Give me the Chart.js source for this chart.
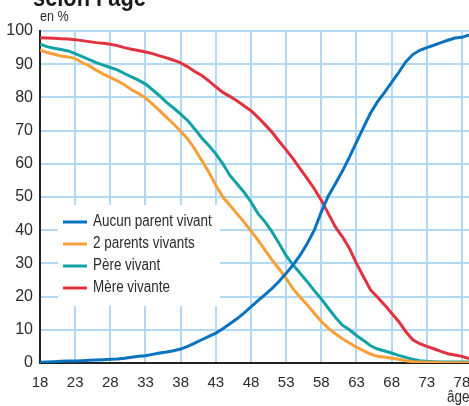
<!DOCTYPE html>
<html lang="fr">
<head>
<meta charset="utf-8">
<script src="https://cdn.jsdelivr.net/npm/chart.js@4.4.1/dist/chart.umd.min.js"></script>
<style>
  html, body { margin: 0; padding: 0; background: #fff; overflow: hidden; }
  #wrap { position: relative; width: 469px; height: 406px; }
</style>
</head>
<body>
<div id="wrap"><canvas id="productChart"></canvas></div>
<script>
// ages (x) and shares in %
const ages = [18, 19, 20, 21, 22, 23, 24, 25, 26, 27, 28, 29, 30, 31, 32, 33, 34, 35, 36, 37, 38, 39, 40,
  41, 42, 43, 44, 45, 46, 47, 48, 49, 50, 51, 52, 53, 54, 55, 56, 57, 58, 59, 60,
  61, 62, 63, 64, 65, 66, 67, 68, 69, 70, 71, 72, 73, 74, 75, 76, 77, 78, 79];

const aucunParent = [0.2, 0.3, 0.4, 0.5, 0.6, 0.6, 0.7, 0.8, 0.9, 1.0, 1.1, 1.2, 1.4, 1.7, 2.0, 2.2, 2.6, 3.0, 3.3, 3.7, 4.2, 5.0, 6.0,
  7.0, 8.0, 9.0, 10.3, 11.8, 13.3, 15.0, 16.9, 18.8, 20.6, 22.5, 24.6, 27.0, 29.6, 32.5, 36.0, 40.0, 45.5, 50.3, 54.0,
  57.8, 62.0, 66.5, 71.0, 75.3, 78.7, 81.5, 84.5, 87.5, 90.7, 92.9, 94.2, 95.0, 95.7, 96.5, 97.2, 97.9, 98.1, 98.8];

const deuxParents = [94.3, 93.5, 93.0, 92.5, 92.2, 91.7, 90.5, 89.5, 88.2, 87.0, 86.0, 85.0, 83.8, 82.3, 81.2, 79.8, 78.0, 76.0, 74.0, 72.0, 69.8, 67.5, 64.5,
  61.0, 57.5, 53.5, 50.0, 47.5, 45.0, 42.5, 39.8, 37.0, 34.0, 31.0, 28.3, 25.5, 22.3, 19.8, 17.5, 15.0, 12.5, 10.5, 8.8,
  7.3, 6.0, 4.8, 3.7, 2.7, 2.0, 1.7, 1.4, 1.1, 0.7, 0.4, 0.3, 0.2, 0.2, 0.1, 0.1, 0.1, 0.1, 0.1];

const pereVivant = [96.0, 95.3, 94.8, 94.4, 94.0, 93.2, 92.3, 91.4, 90.5, 89.7, 89.0, 88.3, 87.2, 86.2, 85.2, 84.0, 82.3, 80.5, 78.5, 76.8, 75.0, 73.0, 70.5,
  67.8, 65.5, 63.0, 60.0, 56.5, 54.0, 51.5, 48.5, 45.0, 42.5, 39.5, 36.0, 32.3, 29.5, 27.0, 24.5, 21.8, 19.3, 16.5, 13.8,
  11.4, 10.0, 8.3, 6.8, 5.2, 4.2, 3.6, 3.0, 2.3, 1.7, 1.1, 0.7, 0.5, 0.4, 0.3, 0.3, 0.3, 0.3, 0.3];

const mereVivante = [98.0, 97.9, 97.8, 97.7, 97.6, 97.4, 97.1, 96.8, 96.5, 96.3, 96.0, 95.6, 95.0, 94.5, 94.1, 93.7, 93.2, 92.5, 91.9, 91.2, 90.4, 89.2, 87.8,
  86.6, 85.0, 83.2, 81.5, 80.3, 79.0, 77.5, 76.0, 74.0, 71.8, 69.5, 66.8, 64.2, 61.5, 58.5, 55.5, 52.5, 49.0, 45.0, 41.0,
  38.0, 34.5, 30.0, 26.0, 22.0, 19.8, 17.5, 15.0, 12.5, 9.5, 7.0, 5.8, 5.0, 4.3, 3.5, 2.8, 2.4, 2.0, 1.3];

const seriesLabels = ['Aucun parent vivant', '2 parents vivants', 'Père vivant', 'Mère vivante'];
const seriesColors = ['#0a73c0', '#f7a03a', '#12a2a6', '#e2323f'];

const xTicks = [18, 23, 28, 33, 38, 43, 48, 53, 58, 63, 68, 73, 78];
const yTicks = [0, 10, 20, 30, 40, 50, 60, 70, 80, 90, 100];

const FONT = '"Liberation Sans", Arial, sans-serif';
const TEXT_COLOR = '#2b2b2b';
const GRID_COLOR = '#b3d9f2';
const SQUEEZE = 0.84; // mimic the condensed face of the original

function toPoints(values) {
  return ages.map((a, i) => ({ x: a, y: values[i] }));
}

// text squeezed horizontally, anchored at its left edge
function narrowText(ctx, text, x, y) {
  ctx.save();
  ctx.translate(x, y);
  ctx.scale(SQUEEZE, 1);
  ctx.fillText(text, 0, 0);
  ctx.restore();
}

// white legend box inside the plot, over the grid but under the lines
const insideLegend = {
  id: 'insideLegend',
  beforeDatasetsDraw(chart) {
    const ctx = chart.ctx;
    ctx.save();
    ctx.fillStyle = '#fff';
    ctx.fillRect(58, 205, 162, 101);
    ctx.font = '16px ' + FONT;
    ctx.textBaseline = 'middle';
    chart.data.datasets.forEach((ds, i) => {
      const y = 222 + i * 22;
      ctx.strokeStyle = ds.borderColor;
      ctx.lineWidth = 3;
      ctx.beginPath();
      ctx.moveTo(63, y);
      ctx.lineTo(87, y);
      ctx.stroke();
      ctx.fillStyle = TEXT_COLOR;
      narrowText(ctx, ds.label, 93, y);
    });
    ctx.restore();
  }
};

// title (cut off at top), unit and axis name
const extraText = {
  id: 'extraText',
  afterDraw(chart) {
    const ctx = chart.ctx;
    ctx.save();
    ctx.fillStyle = '#1a1a1a';
    ctx.font = 'bold 26px ' + FONT;
    ctx.textBaseline = 'alphabetic';
    narrowText(ctx, 'selon l\u2019âge', 33, 6);
    ctx.fillStyle = TEXT_COLOR;
    ctx.font = '15px ' + FONT;
    ctx.textBaseline = 'middle';
    narrowText(ctx, 'en %', 40, 17);
    ctx.font = '16px ' + FONT;
    narrowText(ctx, 'âge', 447, 398);
    ctx.restore();
  }
};

const datasets = [aucunParent, deuxParents, pereVivant, mereVivante].map((vals, i) => ({
  label: seriesLabels[i],
  data: toPoints(vals),
  borderColor: seriesColors[i],
  backgroundColor: seriesColors[i],
  borderWidth: 3,
  pointRadius: 0,
  tension: 0,
  fill: false
}));

new Chart(document.getElementById('productChart'), {
  type: 'line',
  data: { datasets },
  plugins: [insideLegend, extraText],
  options: {
    responsive: true,
    maintainAspectRatio: false,
    animation: false,
    layout: { autoPadding: false, padding: { top: 31, right: 0, left: 0, bottom: 0 } },
    plugins: {
      legend: { display: false },
      tooltip: { enabled: false },
      title: { display: false }
    },
    scales: {
      x: {
        type: 'linear',
        min: 18,
        max: 79,
        afterBuildTicks: axis => { axis.ticks = xTicks.map(v => ({ value: v })); },
        afterFit: axis => { axis.height = 43; axis.paddingLeft = 0; axis.paddingRight = 0; },
        grid: { color: GRID_COLOR, lineWidth: 2, drawTicks: false },
        border: { color: '#222', width: 2 },
        ticks: { color: TEXT_COLOR, font: { family: FONT, size: 15 }, padding: 11, maxRotation: 0, autoSkip: false }
      },
      y: {
        min: 0,
        max: 100,
        afterBuildTicks: axis => { axis.ticks = yTicks.map(v => ({ value: v })); },
        afterFit: axis => { axis.width = 40; axis.paddingTop = 0; axis.paddingBottom = 0; },
        grid: { color: GRID_COLOR, lineWidth: 2, drawTicks: false },
        border: { color: '#222', width: 2 },
        ticks: { color: TEXT_COLOR, font: { family: FONT, size: 16 }, padding: 7 }
      }
    }
  }
});
</script>
</body>
</html>
